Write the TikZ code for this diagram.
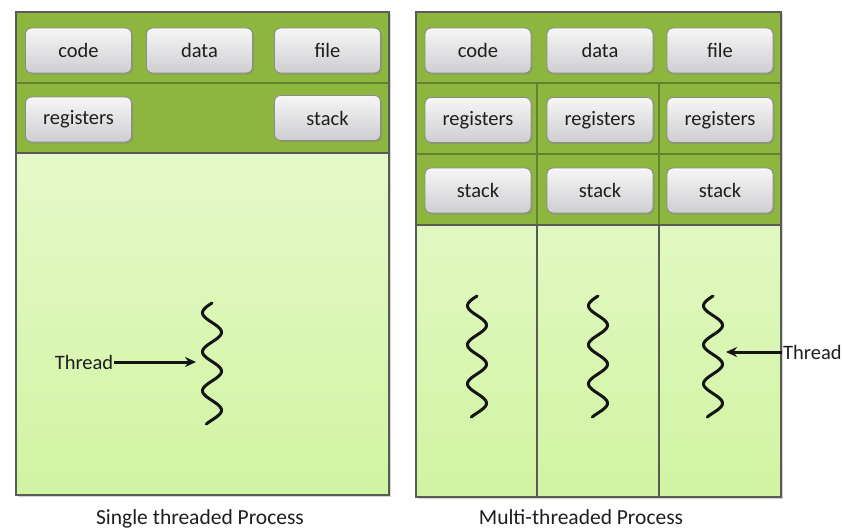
\documentclass[tikz,border=0pt]{standalone}
\usepackage{fontspec}
\setmainfont{Carlito}
\usetikzlibrary{shadows,arrows.meta}
\definecolor{band}{RGB}{140,182,62}
\definecolor{bandline}{RGB}{98,130,48}
\definecolor{lighttop}{RGB}{238,251,216}
\definecolor{lightbot}{RGB}{208,244,162}
\definecolor{frame}{RGB}{88,92,84}
\definecolor{txt}{RGB}{30,30,30}
\definecolor{boxtop}{RGB}{246,246,246}
\definecolor{boxbot}{RGB}{206,206,210}
\definecolor{boxline}{RGB}{140,140,140}
\begin{document}
\begin{tikzpicture}[x=1pt,y=-1pt,
  box/.style={draw=boxline, line width=0.9pt, rounded corners=6pt,
    top color=boxtop, bottom color=boxbot,
    minimum width=106pt, minimum height=45pt, inner sep=0pt,
    font=\fontsize{20.5}{24}\selectfont, text=txt,
    drop shadow={shadow xshift=1.5pt, shadow yshift=-1.5pt, opacity=0.4}},
  outer/.style={draw=frame, line width=1.3pt, top color=lighttop, bottom color=lightbot,
    drop shadow={shadow xshift=2pt, shadow yshift=-2pt, opacity=0.35}},
  lbl/.style={font=\fontsize{20.5}{24}\selectfont, text=txt, inner sep=1pt},
  captext/.style={font=\fontsize{21.5}{26}\selectfont, text=txt, inner sep=0pt, anchor=base},
  arr/.style={draw=black!92, line width=3pt, -{Stealth[length=11pt,width=10pt]}},
  gline/.style={draw=bandline, line width=1.3pt},
  fline/.style={draw=frame, line width=1.3pt},
  wave/.pic={\draw[line width=3pt, line cap=round, black!92]
     plot[domain=0:121, samples=100, smooth] ({-9.5*sin(\x*9.2308)}, \x);}
]
\useasboundingbox (0,0) rectangle (843,531);

% ---------- single threaded process ----------
\path[outer] (16,12) rectangle (389,495);
\fill[band] (16,12) rectangle (389,153);
\draw[gline] (16,83) -- (389,83);
\draw[fline] (16,153) -- (389,153);
\draw[fline] (16,12) rectangle (389,495);

\node[box] (lcode) at (78.5,50.5) {code};
\node[box] (ldata) at (199.5,50.5) {data};
\node[box] (lfile) at (327.5,50.5) {file};
\node[box] (lreg) at (78.5,119.5) {registers};
\node[box] (lstack) at (327.5,118) {stack};

\pic at (212,303) {wave};
\node[lbl] (thrl) at (84,362) {Thread};
\coordinate (tipl) at (196,362);
\draw[arr] (thrl.east) -- (tipl);

\node[captext] (capl) at (200,524) {Single threaded Process};

% ---------- multi-threaded process ----------
\path[outer] (416,12) rectangle (781,497);
\fill[band] (416,12) rectangle (781,225);
\draw[gline] (416,83) -- (781,83);
\draw[gline] (416,154) -- (781,154);
\draw[gline] (537,83) -- (537,225);
\draw[gline] (659,83) -- (659,225);
\draw[fline] (416,225) -- (781,225);
\draw[fline] (537,225) -- (537,497);
\draw[fline] (659,225) -- (659,497);
\draw[fline] (416,12) rectangle (781,497);

\node[box] (rcode) at (478,50.5) {code};
\node[box] (rdata) at (600,50.5) {data};
\node[box] (rfile) at (720,50.5) {file};
\node[box] (rreg1) at (478,120) {registers};
\node[box] (rreg2) at (600,120) {registers};
\node[box] (rreg3) at (720,120) {registers};
\node[box] (rst1) at (478,190.5) {stack};
\node[box] (rst2) at (600,190.5) {stack};
\node[box] (rst3) at (720,190.5) {stack};

\pic at (477,296) {wave};
\pic at (598,296) {wave};
\pic at (713,296) {wave};
\node[lbl, anchor=west] (thrr) at (782,352) {Thread};
\coordinate (tipr) at (726,352);
\draw[arr] (thrr.west) -- (tipr);

\node[captext] (capr) at (581,524) {Multi-threaded Process};
\end{tikzpicture}
\end{document}
